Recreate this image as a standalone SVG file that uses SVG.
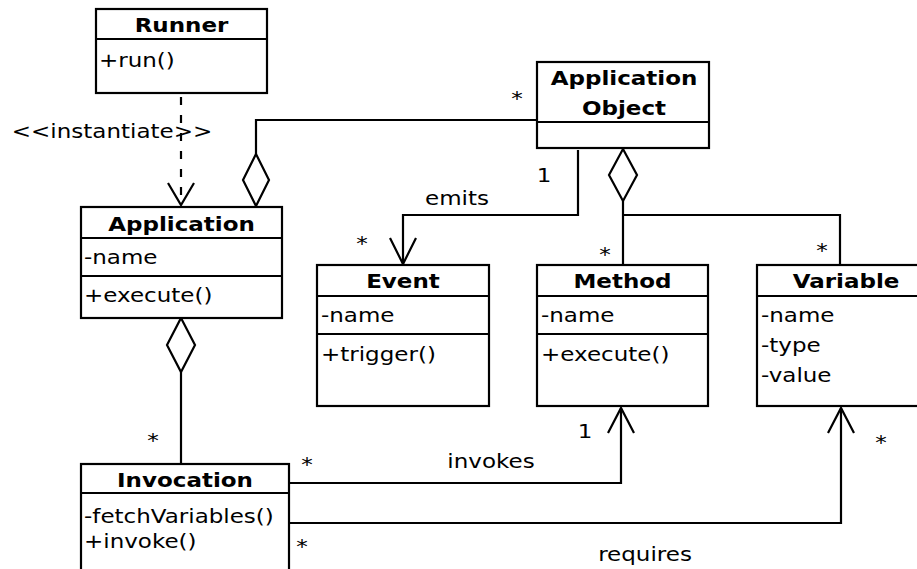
<svg xmlns="http://www.w3.org/2000/svg" width="917" height="569" viewBox="0 0 917 569">
  <style>
    text { font-family: "DejaVu Sans", "Liberation Sans", sans-serif; font-size: 20px; fill: #000; }
    .title { font-weight: bold; text-anchor: middle; }
    .mid { text-anchor: middle; }
    .box { fill: #fff; stroke: #000; stroke-width: 2.2; }
    .sep { stroke: #000; stroke-width: 2.2; fill: none; }
    .edge { fill: none; stroke: #000; stroke-width: 2.2; }
    .dash { stroke-dasharray: 8 10; }
    .head { fill: none; stroke: #000; stroke-width: 2.2; stroke-linejoin: miter; }
    .agg { fill: #fff; stroke: #000; stroke-width: 2.2; }
  </style>

  <rect width="917" height="569" fill="#fff"/>

  <!-- connectors -->
  <g id="connectors">
    <!-- Runner instantiates Application -->
    <path class="edge dash" d="M181,97 V204"/>
    <polyline class="head" points="168,183 181,205 194,183"/>
    <text class="mid" transform="translate(112,138) scale(1.15,1)">&lt;&lt;instantiate&gt;&gt;</text>

    <!-- Application aggregates ApplicationObject -->
    <path class="edge" d="M256,154 V120 H537"/>
    <polygon class="agg" points="256,154 269,180 256,206 243,180"/>
    <text class="mid" transform="translate(517,105) scale(1.15,1)">*</text>

    <!-- ApplicationObject emits Event -->
    <path class="edge" d="M578,150 V215 H403 V264"/>
    <polyline class="head" points="390,238 403,264 416,238"/>
    <text class="mid" transform="translate(544,182) scale(1.15,1)">1</text>
    <text class="mid" transform="translate(457,205) scale(1.15,1)">emits</text>
    <text class="mid" transform="translate(362,250) scale(1.15,1)">*</text>

    <!-- ApplicationObject aggregates Method and Variable -->
    <path class="edge" d="M623,201 V265 M623,215 H840 V265"/>
    <polygon class="agg" points="623,149 637,175 623,201 609,175"/>
    <text class="mid" transform="translate(605,261) scale(1.15,1)">*</text>
    <text class="mid" transform="translate(822,257) scale(1.15,1)">*</text>

    <!-- Application aggregates Invocation -->
    <path class="edge" d="M181,372 V464"/>
    <polygon class="agg" points="181,318 195,345 181,372 167,345"/>
    <text class="mid" transform="translate(153,447) scale(1.15,1)">*</text>

    <!-- Invocation invokes Method -->
    <path class="edge" d="M289,483 H621 V408"/>
    <polyline class="head" points="608,433 621,408 634,433"/>
    <text class="mid" transform="translate(585,438) scale(1.15,1)">1</text>
    <text class="mid" transform="translate(307,471) scale(1.15,1)">*</text>
    <text class="mid" transform="translate(491,468) scale(1.15,1)">invokes</text>

    <!-- Invocation requires Variable -->
    <path class="edge" d="M289,523 H841 V408"/>
    <polyline class="head" points="828,433 841,408 854,433"/>
    <text class="mid" transform="translate(881,449) scale(1.15,1)">*</text>
    <text class="mid" transform="translate(302,553) scale(1.15,1)">*</text>
    <text class="mid" transform="translate(645,561) scale(1.15,1)">requires</text>
  </g>

  <!-- classes -->
  <g id="runner">
    <rect class="box" x="96" y="9" width="171" height="84"/>
    <line class="sep" x1="96" y1="39" x2="267" y2="39"/>
    <text class="title" transform="translate(181.5,32) scale(1.15,1)">Runner</text>
    <text transform="translate(99,67) scale(1.15,1)">+run()</text>
  </g>

  <g id="application-object">
    <rect class="box" x="537" y="62" width="172" height="86"/>
    <line class="sep" x1="537" y1="122" x2="709" y2="122"/>
    <text class="title" transform="translate(624,85) scale(1.15,1)">Application</text>
    <text class="title" transform="translate(624,115) scale(1.15,1)">Object</text>
  </g>

  <g id="application">
    <rect class="box" x="81" y="207" width="201" height="111"/>
    <line class="sep" x1="81" y1="238" x2="282" y2="238"/>
    <line class="sep" x1="81" y1="276" x2="282" y2="276"/>
    <text class="title" transform="translate(181.5,231) scale(1.15,1)">Application</text>
    <text transform="translate(84,264) scale(1.15,1)">-name</text>
    <text transform="translate(84,302) scale(1.15,1)">+execute()</text>
  </g>

  <g id="event">
    <rect class="box" x="317" y="265" width="172" height="141"/>
    <line class="sep" x1="317" y1="296" x2="489" y2="296"/>
    <line class="sep" x1="317" y1="334" x2="489" y2="334"/>
    <text class="title" transform="translate(403,288) scale(1.15,1)">Event</text>
    <text transform="translate(321,322) scale(1.15,1)">-name</text>
    <text transform="translate(321,361) scale(1.15,1)">+trigger()</text>
  </g>

  <g id="method">
    <rect class="box" x="537" y="265" width="171" height="141"/>
    <line class="sep" x1="537" y1="296" x2="708" y2="296"/>
    <line class="sep" x1="537" y1="334" x2="708" y2="334"/>
    <text class="title" transform="translate(622.5,288) scale(1.15,1)">Method</text>
    <text transform="translate(541,322) scale(1.15,1)">-name</text>
    <text transform="translate(541,361) scale(1.15,1)">+execute()</text>
  </g>

  <g id="variable">
    <rect class="box" x="757" y="265" width="178" height="141"/>
    <line class="sep" x1="757" y1="296" x2="935" y2="296"/>
    <text class="title" transform="translate(846,288) scale(1.15,1)">Variable</text>
    <text transform="translate(761,322) scale(1.15,1)">-name</text>
    <text transform="translate(761,352) scale(1.15,1)">-type</text>
    <text transform="translate(761,382) scale(1.15,1)">-value</text>
  </g>

  <g id="invocation">
    <rect class="box" x="81" y="464" width="208" height="120"/>
    <line class="sep" x1="81" y1="493" x2="289" y2="493"/>
    <text class="title" transform="translate(185,487) scale(1.15,1)">Invocation</text>
    <text transform="translate(84,523) scale(1.15,1)">-fetchVariables()</text>
    <text transform="translate(84,548) scale(1.15,1)">+invoke()</text>
  </g>
</svg>
